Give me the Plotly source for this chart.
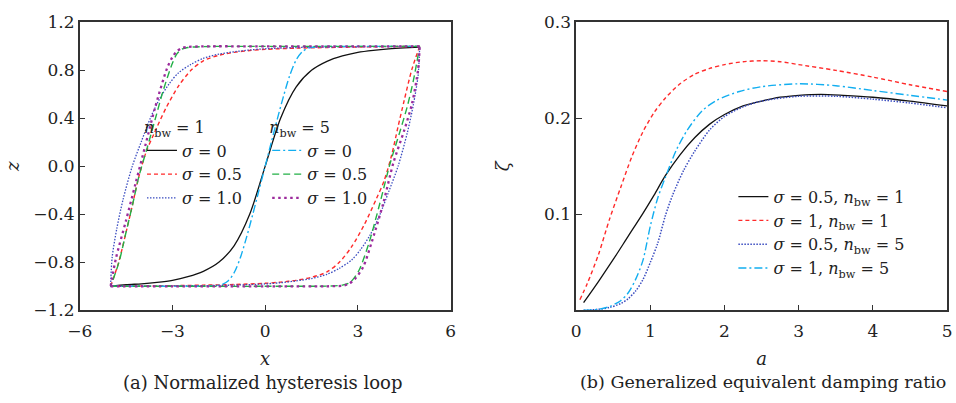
import plotly.graph_objects as go

# ---------------- (a) hysteresis loop data ----------------
# sigma = 0, n_bw = 1 (single curve)
x_s0_n1 = [-5, -4.5, -4, -3.5, -3, -2.5, -2, -1.5, -1, -0.5, 0, 0.5, 1, 1.5, 2, 2.5, 3, 3.5, 4, 4.5, 5]
z_s0_n1 = [-1.0, -0.987, -0.979, -0.967, -0.95, -0.92, -0.875, -0.80, -0.66, -0.40, 0.0,
           0.40, 0.66, 0.80, 0.875, 0.92, 0.95, 0.967, 0.979, 0.987, 0.993]

# sigma = 0, n_bw = 5 (single curve)
x_s0_n5 = [-5, -3, -2, -1.6, -1.4, -1.2, -1.0, -0.8, -0.6, -0.4, -0.2, 0, 0.2, 0.4, 0.6, 0.8, 1.0, 1.2, 1.4, 1.6, 2, 3, 5]
z_s0_n5 = [-1.0, -1.0, -0.999, -0.995, -0.985, -0.955, -0.885, -0.76, -0.59, -0.40, -0.20, 0.0,
           0.20, 0.40, 0.59, 0.76, 0.885, 0.955, 0.985, 0.995, 0.999, 1.0, 1.0]

# sigma = 0.5, n_bw = 1 : descending branch (top) and ascending branch (bottom)
x_s05_n1_dn = [5, 4, 3, 2, 1, 0, -0.5, -1, -1.5, -2, -2.4, -2.8, -3.2, -3.6, -3.85, -4.1, -4.3, -4.5, -4.75, -5]
z_s05_n1_dn = [1.0, 0.998, 0.995, 0.99, 0.985, 0.975, 0.965, 0.95, 0.925, 0.88, 0.80, 0.67, 0.49, 0.27,
               0.12, -0.10, -0.33, -0.55, -0.81, -1.0]
x_s05_n1_up = [-5, -4, -3, -2, -1, 0, 0.5, 1, 1.5, 2, 2.4, 2.8, 3.2, 3.6, 3.85, 4.1, 4.3, 4.5, 4.75, 5]
z_s05_n1_up = [-1.0, -0.998, -0.995, -0.99, -0.985, -0.975, -0.965, -0.95, -0.925, -0.88, -0.80, -0.67,
               -0.49, -0.27, -0.12, 0.10, 0.33, 0.55, 0.81, 1.0]

# sigma = 1.0, n_bw = 1
x_s1_n1_dn = [5, 3, 1, 0, -0.5, -1, -1.5, -2, -2.4, -2.8, -3.1, -3.4, -3.7, -4.0, -4.3, -4.6, -4.8, -4.95, -5]
z_s1_n1_dn = [1.0, 0.997, 0.99, 0.98, 0.97, 0.955, 0.935, 0.90, 0.85, 0.78, 0.69, 0.57, 0.41, 0.21,
              0.0, -0.28, -0.52, -0.76, -1.0]
x_s1_n1_up = [-5, -3, -1, 0, 0.5, 1, 1.5, 2, 2.4, 2.8, 3.1, 3.4, 3.7, 4.0, 4.3, 4.6, 4.8, 4.95, 5]
z_s1_n1_up = [-1.0, -0.997, -0.99, -0.98, -0.97, -0.955, -0.935, -0.90, -0.85, -0.78, -0.69, -0.57,
              -0.41, -0.21, 0.0, 0.28, 0.52, 0.76, 1.0]

# sigma = 0.5, n_bw = 5
x_s05_n5_dn = [5, 3, 0, -2, -2.5, -2.7, -2.85, -3.0, -3.3, -3.56, -3.81, -4.08, -4.29, -4.51, -4.73, -5]
z_s05_n5_dn = [1.0, 1.0, 1.0, 0.998, 0.99, 0.975, 0.94, 0.86, 0.63, 0.39, 0.16, -0.08, -0.32, -0.56, -0.80, -1.0]
x_s05_n5_up = [-5, -3, 0, 2, 2.5, 2.7, 2.85, 3.05, 3.37, 3.7, 4.05, 4.35, 4.6, 4.8, 5]
z_s05_n5_up = [-1.0, -1.0, -1.0, -0.998, -0.99, -0.975, -0.94, -0.86, -0.63, -0.32, 0.03, 0.28, 0.50, 0.72, 1.0]

# sigma = 1.0, n_bw = 5
x_s1_n5_dn = [5, 3, 0, -2, -2.5, -2.7, -2.85, -3.0, -3.17, -3.56, -3.87, -4.19, -4.51, -4.83, -5]
z_s1_n5_dn = [1.0, 1.0, 1.0, 1.0, 0.995, 0.985, 0.96, 0.91, 0.82, 0.49, 0.18, -0.14, -0.46, -0.77, -1.0]
x_s1_n5_up = [-5, -3, 0, 2, 2.5, 2.7, 2.9, 3.17, 3.45, 3.82, 4.15, 4.5, 4.75, 4.95, 5]
z_s1_n5_up = [-1.0, -1.0, -1.0, -1.0, -0.995, -0.98, -0.94, -0.84, -0.63, -0.31, 0.03, 0.30, 0.52, 0.81, 1.0]

# ---------------- (b) damping ratio data ----------------
a_s05_n1 = [0.1, 0.3, 0.5, 0.7, 0.9, 1.05, 1.2, 1.4, 1.6, 1.8, 2.0, 2.25, 2.5, 2.75, 3.0, 3.3, 3.6, 4.0, 4.5, 5.0]
zeta_s05_n1 = [0.008, 0.030, 0.053, 0.077, 0.101, 0.120, 0.140, 0.162, 0.180, 0.194, 0.204, 0.213, 0.218,
               0.222, 0.224, 0.225, 0.224, 0.222, 0.218, 0.213]

a_s1_n1 = [0.05, 0.15, 0.3, 0.45, 0.6, 0.75, 0.9, 1.05, 1.2, 1.4, 1.6, 1.8, 2.0, 2.25, 2.5, 2.75, 3.0, 3.5, 4.0, 4.5, 5.0]
zeta_s1_n1 = [0.011, 0.028, 0.058, 0.095, 0.128, 0.16, 0.186, 0.206, 0.221, 0.236, 0.246, 0.252, 0.256,
              0.259, 0.26, 0.259, 0.256, 0.25, 0.243, 0.235, 0.228]

a_s05_n5 = [0.1, 0.3, 0.45, 0.6, 0.7, 0.8, 0.9, 1.0, 1.1, 1.2, 1.3, 1.45, 1.6, 1.8, 2.0, 2.25, 2.5, 3.0, 3.5, 4.0, 4.5, 5.0]
zeta_s05_n5 = [0.0, 0.001, 0.003, 0.007, 0.012, 0.02, 0.032, 0.05, 0.07, 0.098, 0.12, 0.146, 0.166, 0.188,
               0.202, 0.212, 0.218, 0.223, 0.223, 0.220, 0.216, 0.211]

a_s1_n5 = [0.1, 0.3, 0.45, 0.6, 0.7, 0.8, 0.9, 1.0, 1.1, 1.2, 1.35, 1.5, 1.7, 1.9, 2.2, 2.5, 3.0, 3.5, 4.0, 4.5, 5.0]
zeta_s1_n5 = [0.0, 0.001, 0.004, 0.01, 0.018, 0.032, 0.052, 0.088, 0.117, 0.138, 0.167, 0.188, 0.208, 0.219,
              0.228, 0.233, 0.236, 0.234, 0.229, 0.224, 0.219]

# ---------------- axes ticks / labels ----------------
xa_ticks = [-6, -3, 0, 3, 6]
za_ticks = [-1.2, -0.8, -0.4, 0.0, 0.4, 0.8, 1.2]
ab_ticks = [0, 1, 2, 3, 4, 5]
zb_ticks = [0.1, 0.2, 0.3]

title_a = "(a) Normalized hysteresis loop"
title_b = "(b) Generalized equivalent damping ratio"

# ---------------- styles ----------------
RED = "#ff2a2a"
BLUE = "#3a4cc0"
CYAN = "#12aef0"
GREEN = "#22b046"
MAG = "#9c2a9c"
BLACK = "#111111"
FONT = "DejaVu Serif"
TXT = "#222222"

st_black = dict(color=BLACK, width=1.3)
st_red = dict(color=RED, width=1.4, dash="4px,3px")
st_blue = dict(color=BLUE, width=1.3, dash="1.5px,1.5px")
st_cyan = dict(color=CYAN, width=1.4, dash="8px,3px,2px,3px")
st_green = dict(color=GREEN, width=1.4, dash="7px,4px")
st_mag = dict(color=MAG, width=2.3, dash="2.5px,3.5px")

fig = go.Figure()

def add(x, y, line, name, legend, group, show=True, xa="x", ya="y"):
    fig.add_trace(go.Scatter(x=x, y=y, mode="lines", line=dict(shape="spline", smoothing=0.8, **line),
                             name=name, legend=legend, legendgroup=group, showlegend=show,
                             xaxis=xa, yaxis=ya, hoverinfo="skip"))

# left panel, n_bw = 1
add(x_s0_n1, z_s0_n1, st_black, "<i>σ</i> = 0", "legend", "a1")
add(x_s05_n1_dn, z_s05_n1_dn, st_red, "<i>σ</i> = 0.5", "legend", "a2")
add(x_s05_n1_up, z_s05_n1_up, st_red, "<i>σ</i> = 0.5", "legend", "a2", show=False)
add(x_s1_n1_dn, z_s1_n1_dn, st_blue, "<i>σ</i> = 1.0", "legend", "a3")
add(x_s1_n1_up, z_s1_n1_up, st_blue, "<i>σ</i> = 1.0", "legend", "a3", show=False)
# left panel, n_bw = 5
add(x_s0_n5, z_s0_n5, st_cyan, "<i>σ</i> = 0", "legend2", "b1")
add(x_s05_n5_dn, z_s05_n5_dn, st_green, "<i>σ</i> = 0.5", "legend2", "b2")
add(x_s05_n5_up, z_s05_n5_up, st_green, "<i>σ</i> = 0.5", "legend2", "b2", show=False)
add(x_s1_n5_dn, z_s1_n5_dn, st_mag, "<i>σ</i> = 1.0", "legend2", "b3")
add(x_s1_n5_up, z_s1_n5_up, st_mag, "<i>σ</i> = 1.0", "legend2", "b3", show=False)

# right panel
add(a_s05_n1, zeta_s05_n1, st_black, "<i>σ</i> = 0.5, <i>n</i><sub>bw</sub> = 1", "legend3", "c1", xa="x2", ya="y2")
add(a_s1_n1, zeta_s1_n1, st_red, "<i>σ</i> = 1, <i>n</i><sub>bw</sub> = 1", "legend3", "c2", xa="x2", ya="y2")
add(a_s05_n5, zeta_s05_n5, dict(st_blue, width=1.5), "<i>σ</i> = 0.5, <i>n</i><sub>bw</sub> = 5", "legend3", "c3", xa="x2", ya="y2")
add(a_s1_n5, zeta_s1_n5, st_cyan, "<i>σ</i> = 1, <i>n</i><sub>bw</sub> = 5", "legend3", "c4", xa="x2", ya="y2")

axis_common = dict(showline=True, mirror=True, linecolor="#333333", linewidth=1.5, ticks="inside",
                   ticklen=6, tickwidth=1.3, tickcolor="#333333", showgrid=False, zeroline=False,
                   tickfont=dict(family=FONT, size=17, color=TXT),
                   title_font=dict(family=FONT, size=18, color=TXT))

legend_common = dict(bgcolor="rgba(0,0,0,0)", borderwidth=0, xanchor="left", yanchor="top",
                     font=dict(family=FONT, size=16, color=TXT), tracegroupgap=0,
                     itemwidth=30, title_font=dict(family=FONT, size=16, color=TXT))

fig.update_layout(
    width=956, height=403, margin=dict(l=0, r=0, t=0, b=0),
    paper_bgcolor="white", plot_bgcolor="white",
    showlegend=True,
    xaxis=dict(domain=[0.0711, 0.4665], range=[-6, 6], tickvals=xa_ticks, anchor="y",
               ticklabelstandoff=5, title=dict(text="<i>x</i>", standoff=12), **axis_common),
    yaxis=dict(domain=[0.2159, 0.9677], range=[-1.2, 1.2], tickvals=za_ticks, tickformat=".1f", anchor="x",
               title=dict(text="<i>z</i>", standoff=9), **axis_common),
    xaxis2=dict(domain=[0.6004, 0.9958], range=[0, 5], tickvals=ab_ticks, anchor="y2",
                ticklabelstandoff=5, title=dict(text="<i>a</i>", standoff=12), **axis_common),
    yaxis2=dict(domain=[0.2159, 0.9677], range=[0, 0.3], tickvals=zb_ticks, tickformat=".1f", anchor="x2",
                title=dict(text="<i>ζ</i>", standoff=30), **axis_common),
    legend=dict(x=0.1375, y=0.732, title=dict(text="<i>n</i><sub>bw</sub> = 1"), **legend_common),
    legend2=dict(x=0.2710, y=0.732, title=dict(text="<i>n</i><sub>bw</sub> = 5"), **legend_common),
    legend3=dict(x=0.768, y=0.557, **legend_common),
    annotations=[
        dict(text=title_a, x=0.266, y=0.028, xref="paper", yref="paper", showarrow=False,
             xanchor="center", yanchor="middle", font=dict(family=FONT, size=18, color=TXT)),
        dict(text=title_b, x=0.80, y=0.028, xref="paper", yref="paper", showarrow=False,
             xanchor="center", yanchor="middle", font=dict(family=FONT, size=17.5, color=TXT)),
    ],
)

fig.write_html("out.html")
